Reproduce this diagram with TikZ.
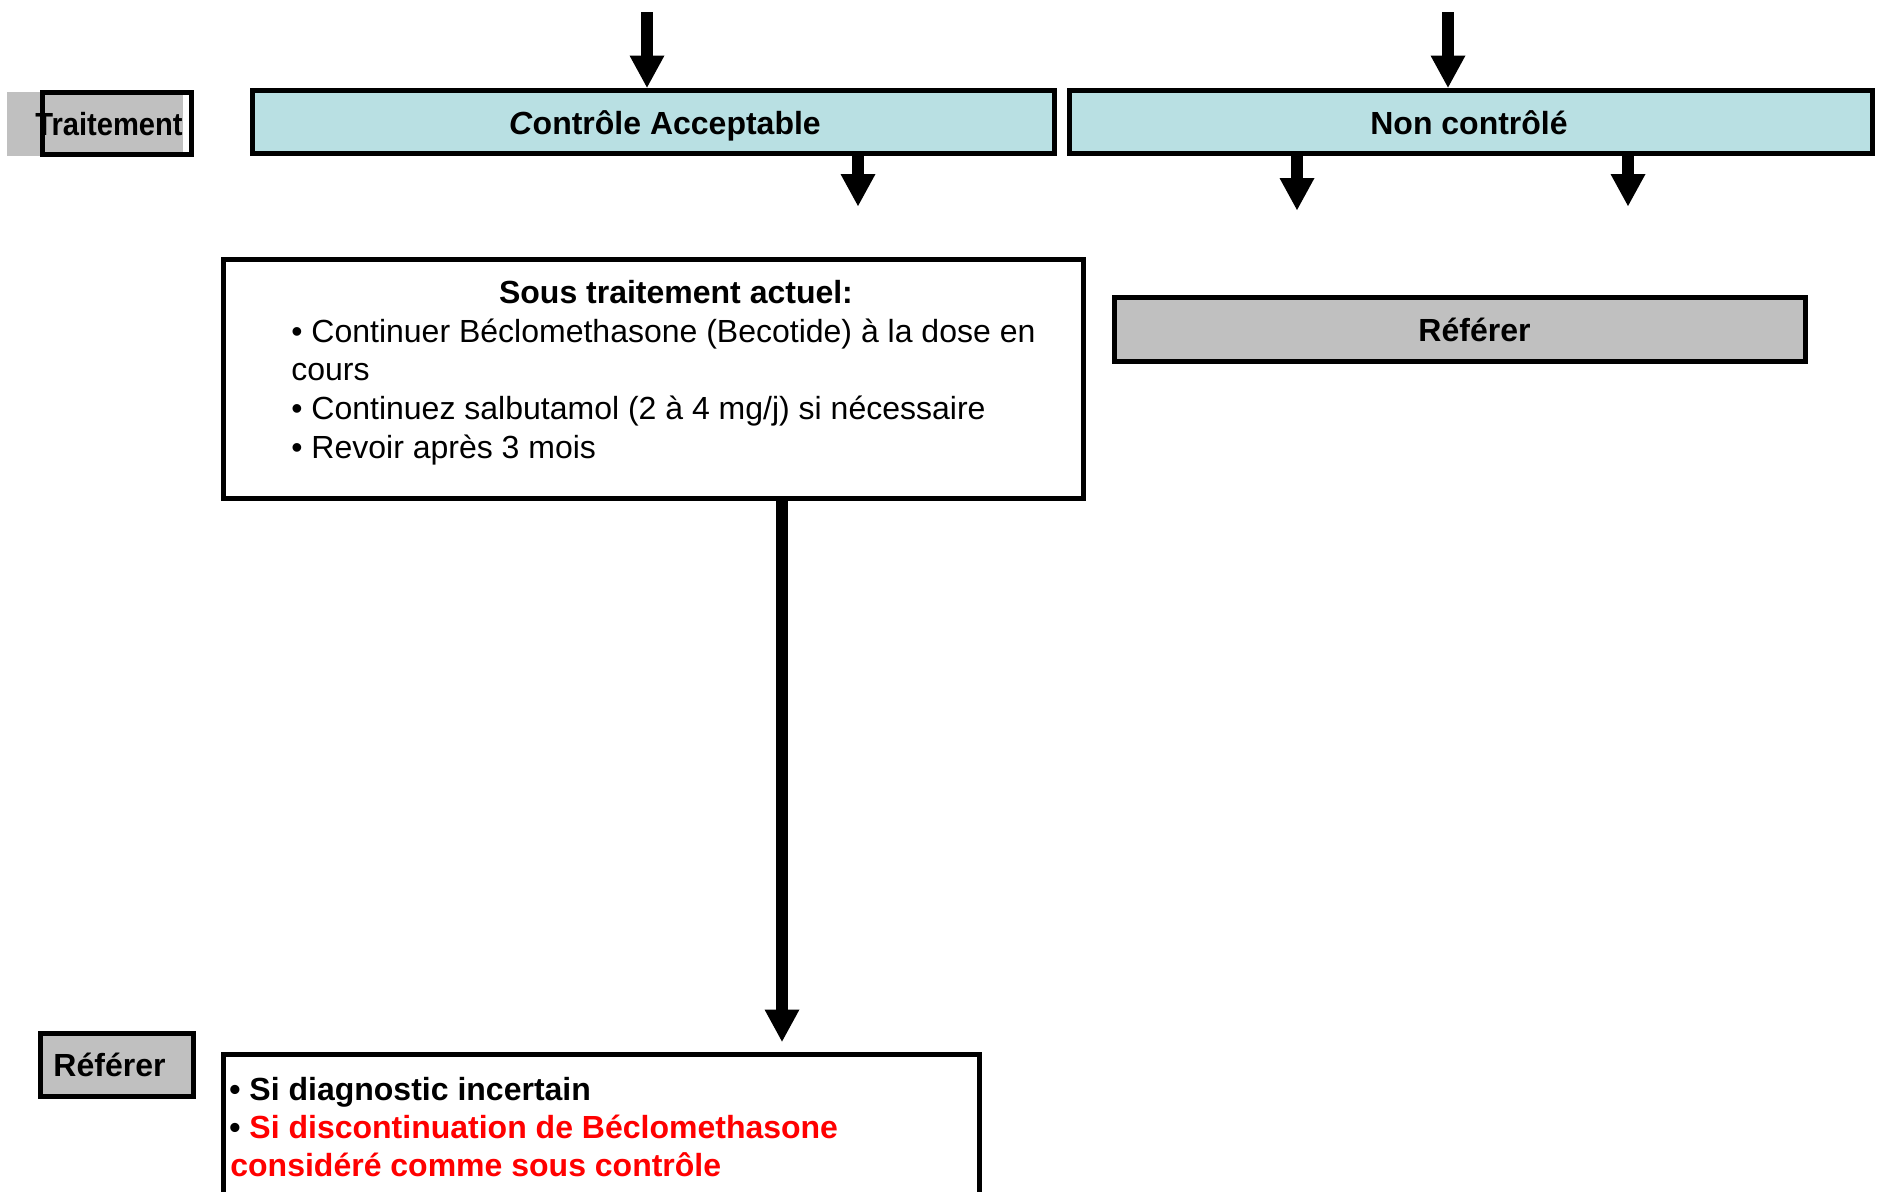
\documentclass[tikz,border=0pt]{standalone}
\usepackage{fontspec}
\setmainfont{Liberation Sans}
\usetikzlibrary{arrows.meta}
\definecolor{boxblue}{RGB}{185,224,227}
\definecolor{boxgray}{RGB}{192,192,192}
\definecolor{alertred}{RGB}{255,0,0}
\begin{document}
\begin{tikzpicture}[x=0.5pt,y=-0.5pt,
  frame/.style={draw=black,line width=2.5pt,inner sep=0pt,rectangle},
  headbox/.style={frame,fill=boxblue,minimum height=31.5pt},
  graybox/.style={frame,fill=boxgray},
  lbl/.style={inner sep=0pt,anchor=base,font=\fontsize{16pt}{19.35pt}\selectfont},
  lblb/.style={inner sep=0pt,anchor=base,font=\fontsize{16pt}{19.35pt}\selectfont\bfseries},
  bigarrow/.style={line width=6pt,-{Triangle[length=16pt,width=17.5pt,line width=0pt]}}
]
\useasboundingbox (0,0) rectangle (1879,1191);
\begin{scope}
\clip (0,0) rectangle (1879,1191);

% row label "Traitement"
\fill[boxgray] (7,92) rectangle (183,156);
\node[frame,minimum width=74.5pt,minimum height=31.25pt] (trait) at (117,123.5) {};
\node[lblb] (traitT) at (109,135) {\scalebox{0.91}[1]{Traitement}};

% control level boxes
\node[headbox,minimum width=401pt] (ctrl) at (653,121.5) {};
\node[lblb] (ctrlT) at (665,134) {\textit{C}ontrôle Acceptable};
\node[headbox,minimum width=401.5pt] (nonc) at (1470.5,121.5) {};
\node[lblb] (noncT) at (1469,134) {Non contrôlé};

% incoming arrows
\coordinate (inC) at (647,12);
\coordinate (inN) at (1448,12);
\draw[bigarrow] (inC) -- (ctrl.north -| inC);
\draw[bigarrow] (inN) -- (nonc.north -| inN);

% outgoing arrows
\coordinate (outC) at (858,206);
\coordinate (outN1) at (1297,210);
\coordinate (outN2) at (1628,206);
\draw[bigarrow] (ctrl.south -| outC) -- (outC);
\draw[bigarrow] (nonc.south -| outN1) -- (outN1);
\draw[bigarrow] (nonc.south -| outN2) -- (outN2);

% current treatment box
\node[frame,minimum width=430pt,minimum height=119.5pt] (sous) at (653,378.5) {};
\node[lblb] (sousH) at (676,303.5) {Sous traitement actuel:};
\node[lbl,anchor=base west] (sous1) at (291,342) {• Continuer Béclomethasone (Becotide) à la dose en};
\node[lbl,anchor=base west] (sous2) at (291,380.5) {cours};
\node[lbl,anchor=base west] (sous3) at (291,419) {• Continuez salbutamol (2 à 4 mg/j) si nécessaire};
\node[lbl,anchor=base west] (sous4) at (291,458) {• Revoir après 3 mois};

% referral for uncontrolled
\node[graybox,minimum width=345.5pt,minimum height=32pt] (refR) at (1459.5,329) {};
\node[lblb] (refRT) at (1474.5,341) {Référer};

% referral row
\node[graybox,minimum width=76.5pt,minimum height=31.5pt] (refL) at (116.5,1064.5) {};
\node[lblb] (refLT) at (109.5,1076.5) {Référer};

\node[frame,minimum width=378pt,minimum height=150pt] (bot) at (601,1204) {};
\node[lblb,anchor=base west] (bot1) at (229,1100) {• Si diagnostic incertain};
\node[lblb,anchor=base west] (bot2) at (229,1138) {• \textcolor{alertred}{Si discontinuation de Béclomethasone}};
\node[lblb,anchor=base west,text=alertred] (bot3) at (230,1176) {considéré comme sous contrôle};

% long arrow down to referral conditions
\coordinate (longx) at (782,0);
\draw[bigarrow,shorten >=5pt] (sous.south -| longx) -- (bot.north -| longx);
\end{scope}
\end{tikzpicture}
\end{document}
